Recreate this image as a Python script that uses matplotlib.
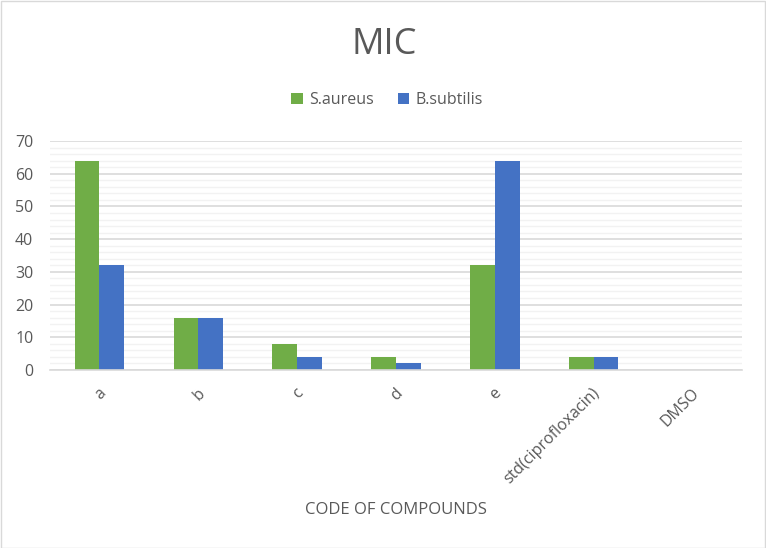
import matplotlib
matplotlib.use("Agg")
import matplotlib.pyplot as plt
from matplotlib.ticker import MultipleLocator
from matplotlib.patches import Rectangle
from matplotlib.transforms import ScaledTranslation
import numpy as np

categories = ["a", "b", "c", "d", "e", "std(ciprofloxacin)", "DMSO"]
s_aureus = [64, 16, 8, 4, 32, 4, 0]
b_subtilis = [32, 16, 4, 2, 64, 4, 0]
series_names = ["S.aureus", "B.subtilis"]
colors = ["#70AD47", "#4472C4"]
text_color = "#595959"

plt.rcParams['font.family'] = ['Open Sans', 'DejaVu Sans']

W, H = 766, 548
fig = plt.figure(figsize=(W / 100, H / 100), dpi=100)
fig.patches.append(Rectangle((0.5 / W, 0.5 / H), 1 - 1.5 / W, 1 - 1.5 / H, transform=fig.transFigure,
                             fill=False, edgecolor='#D9D9D9', linewidth=1.0))
left, right, bottom, top = 50, 742, 370, 141
ax = fig.add_axes([left / W, 1 - bottom / H, (right - left) / W, (bottom - top) / H])

x = np.arange(len(categories))
bw = 1 / 4
ax.bar(x - bw / 2, s_aureus, width=bw, color=colors[0], label=series_names[0], zorder=3)
ax.bar(x + bw / 2, b_subtilis, width=bw, color=colors[1], label=series_names[1], zorder=3)

ax.set_xlim(-0.5, len(categories) - 0.5)
ax.set_ylim(0, 70)
ax.yaxis.set_major_locator(MultipleLocator(10))
ax.yaxis.set_minor_locator(MultipleLocator(2))
ax.grid(axis='y', which='major', color='#D9D9D9', linewidth=1.2, zorder=0)
ax.grid(axis='y', which='minor', color='#F2F2F2', linewidth=1.0, zorder=0)
ax.set_axisbelow(True)
for s in ['top', 'right', 'left']:
    ax.spines[s].set_visible(False)
ax.spines['bottom'].set_color('#D9D9D9')
ax.spines['bottom'].set_linewidth(1.2)
ax.spines['bottom'].set_zorder(4)
ax.tick_params(axis='both', which='both', length=0, labelcolor=text_color, labelsize=11.5)
ax.tick_params(axis='y', pad=12)
ax.tick_params(axis='x', pad=15)
ax.set_xticks(x)
ax.set_xticklabels(categories, rotation=45, ha='right', va='center', rotation_mode='anchor')
offset = ScaledTranslation(4 / 100, 0, fig.dpi_scale_trans)
for lbl in ax.get_xticklabels():
    lbl.set_transform(lbl.get_transform() + offset)

fig.text(384 / W, 1 - 45 / H, "MIC", ha='center', va='center', fontsize=26, color=text_color)
fig.text(396 / W, 1 - 510 / H, "CODE OF COMPOUNDS", ha='center', va='center', fontsize=12, color=text_color)

leg = fig.legend(loc='center', bbox_to_anchor=(387 / W, 1 - 100 / H), ncol=2, frameon=False,
                 fontsize=11.5, handlelength=0.7, handleheight=0.7, handletextpad=0.4,
                 columnspacing=1.5, labelcolor=text_color)

fig.savefig("out.png", dpi=100)
